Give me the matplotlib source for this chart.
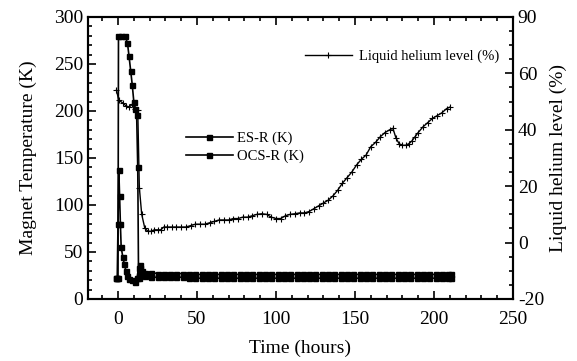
import matplotlib
matplotlib.use("Agg")
import matplotlib.pyplot as plt
from matplotlib.ticker import MultipleLocator, FixedLocator

plt.rcParams['font.family'] = ['Liberation Serif', 'DejaVu Serif']

# OCS-R temperature (K), the one with the tall peak
t_ocs = [-1, 0, 0.3, 2, 4.5, 6, 7, 8, 9, 10, 11, 11.8, 12.5, 13, 14, 15,
         17, 21, 25, 29, 33, 37, 41, 45, 49, 53, 57, 61, 65, 69, 73, 77, 81,
         85, 89, 93, 97, 101, 105, 109, 113, 117, 121, 125, 129, 133, 137,
         141, 145, 149, 153, 157, 161, 165, 169, 173, 177, 181, 185, 189,
         193, 197, 201, 205, 209, 211]
T_ocs = [22, 22, 280, 280, 280, 272, 258, 243, 228, 210, 202, 196, 140, 22, 33, 30,
         28, 28, 27, 27, 27, 27, 27, 26, 26, 26, 26, 26, 26, 26, 26, 26, 26,
         26, 26, 26, 26, 26, 26, 26, 26, 26, 26, 26, 26, 26, 26,
         26, 26, 26, 26, 26, 26, 26, 26, 26, 26, 26, 26, 26,
         26, 26, 26, 26, 26, 26]

# ES-R temperature (K)
t_es = [-1, -0.5, 0, 0.5, 1, 1.5, 2, 3, 4, 5, 6, 7, 9, 11, 12, 13, 14, 15,
        17, 21, 25, 29, 33, 37, 41, 45, 49, 53, 57, 61, 65, 69, 73, 77, 81,
        85, 89, 93, 97, 101, 105, 109, 113, 117, 121, 125, 129, 133, 137,
        141, 145, 149, 153, 157, 161, 165, 169, 173, 177, 181, 185, 189,
        193, 197, 201, 205, 209, 211]
T_es = [22, 22, 80, 137, 110, 80, 55, 45, 37, 30, 24, 21, 20, 18, 22, 33, 36, 28,
        24, 23, 23, 23, 23, 23, 23, 22, 22, 22, 22, 22, 22, 22, 22, 22, 22,
        22, 22, 22, 22, 22, 22, 22, 22, 22, 22, 22, 22, 22, 22,
        22, 22, 22, 22, 22, 22, 22, 22, 22, 22, 22, 22, 22,
        22, 22, 22, 22, 22, 22]

# liquid helium level (%)
t_he = [-1, 0.5, 3, 5, 7, 9, 11, 12.5, 13.5, 15, 17, 19, 21, 23, 25, 27, 29,
        31, 34, 37, 40, 43, 46, 49, 52, 55, 58, 61, 64, 67, 70, 73, 76, 79,
        82, 85, 88, 91, 94, 97, 100, 103, 106, 109, 112, 115, 118, 121, 124,
        127, 130, 133, 136, 139, 142, 145, 148, 151, 154, 157, 160, 163, 166,
        169, 172, 174, 176, 178, 180, 182, 184, 186, 188, 190, 193, 196, 199,
        202, 205, 208, 210]
L_he = [54, 50.5, 49.5, 48.5, 48, 49, 47.5, 47, 19.5, 10, 5, 4, 4, 4.5, 4.5, 4.5, 5.5,
        5.5, 5.5, 5.5, 5.5, 5.5, 6, 6.5, 6.5, 6.5, 7, 7.5, 8, 8, 8, 8.5, 8.5, 9,
        9, 9.5, 10, 10.2, 10, 9, 8.5, 8.5, 9.5, 10, 10.2, 10.5, 10.5, 11, 12,
        13, 14, 15, 16.5, 18.5, 21, 23, 25, 27.5, 29.5, 31, 34, 35.5, 37.5,
        39, 40, 40.5, 37, 35, 34.5, 34.5, 35, 36, 37.5, 39, 41, 42.5, 44,
        45, 46, 47.5, 48]

right_ticks = [-20, 0, 20, 40, 60, 80]
right_labels = ['-20', '0', '20', '40', '60', '90']

fig = plt.figure(figsize=(5.77, 3.61), dpi=100)
ax = fig.add_axes([0.1525, 0.172, 0.7365, 0.781])
ax2 = ax.twinx()

l1, = ax.plot(t_es, T_es, color='black', lw=1.2, marker='s', ms=3.6, label='ES-R (K)')
l2, = ax.plot(t_ocs, T_ocs, color='black', lw=1.2, marker='s', ms=3.6, label='OCS-R (K)')
l3, = ax2.plot(t_he, L_he, color='black', lw=1.0, marker='+', ms=4, mew=0.8,
               label='Liquid helium level (%)')

ax.set_xlim(-19, 250)
ax.set_ylim(0, 300)
ax2.set_ylim(-20, 80)

ax.xaxis.set_major_locator(MultipleLocator(50))
ax.xaxis.set_minor_locator(MultipleLocator(10))
ax.yaxis.set_major_locator(MultipleLocator(50))
ax.yaxis.set_minor_locator(MultipleLocator(10))
ax2.yaxis.set_major_locator(FixedLocator(right_ticks))
ax2.set_yticklabels(right_labels)
ax2.yaxis.set_minor_locator(MultipleLocator(5))

ax.tick_params(which='both', direction='in', top=True, labelsize=14, width=1.2)
ax.tick_params(which='major', length=6)
ax.tick_params(which='minor', length=3)
ax.tick_params(axis='x', pad=9)
ax2.tick_params(which='both', direction='in', labelsize=14, width=1.2)
ax2.tick_params(which='major', length=6)
ax2.tick_params(which='minor', length=3)
for a in (ax, ax2):
    for s in a.spines.values():
        s.set_linewidth(1.5)

ax.set_xlabel('Time (hours)', fontsize=14, labelpad=8)
ax.set_ylabel('Magnet Temperature (K)', fontsize=14, labelpad=12)
ax2.set_ylabel('Liquid helium level (%)', fontsize=14)

ax.legend(handles=[l1, l2], loc='upper left', bbox_to_anchor=(0.2, 0.64),
          frameon=False, fontsize=10.5, handlelength=3.2, handletextpad=0.3,
          labelspacing=0.3)
ax2.legend(handles=[l3], loc='upper left', bbox_to_anchor=(0.48, 0.93),
           frameon=False, fontsize=10.5, handlelength=3.2, handletextpad=0.5)

fig.savefig('out.png', dpi=100)
